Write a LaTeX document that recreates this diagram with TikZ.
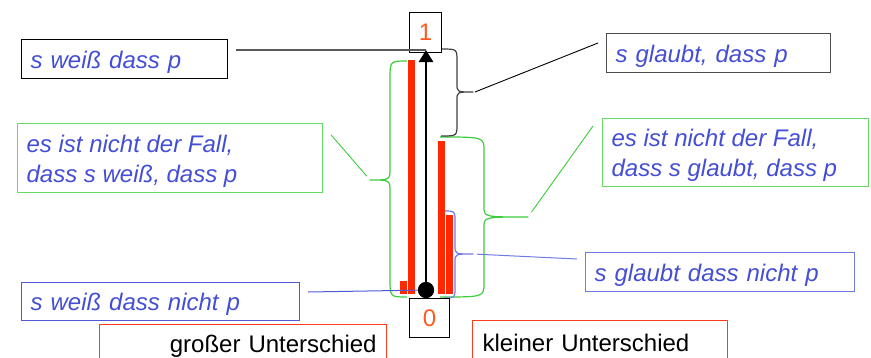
\documentclass[tikz,border=0pt]{standalone}
\usepackage{fontspec}
\setmainfont{Liberation Sans}
\usetikzlibrary{arrows.meta,calc}
\definecolor{txtblue}{RGB}{68,78,212}
\definecolor{lineblue}{RGB}{112,122,228}
\definecolor{boxblue}{RGB}{80,90,215}
\definecolor{grn}{RGB}{60,205,60}
\definecolor{grnbox}{RGB}{100,220,100}
\definecolor{barred}{RGB}{255,40,0}
\definecolor{boxred}{RGB}{255,60,30}
\definecolor{numor}{RGB}{255,90,30}
\begin{document}
\begin{tikzpicture}[x=1pt,y=-1pt,
  lbl/.style={draw, anchor=north west, inner xsep=9pt, inner ysep=0pt, align=left,
    font=\fontsize{24}{30}\selectfont\itshape, text=txtblue, line width=1.2pt},
  oneline/.style={text height=23.5pt, text depth=5pt},
  numbox/.style={draw=black, line width=1pt, anchor=north west, inner sep=0pt,
    text=numor, font=\fontsize{24}{24}\selectfont},
  diffbox/.style={draw=boxred, line width=1.2pt, anchor=north west, inner xsep=10pt,
    inner ysep=0pt, font=\fontsize{24}{30}\selectfont, text=black},
  brc/.style n args={8}{insert path={
    (#1,#2) .. controls (#4,#2) .. (#4,{#2+#7}) -- (#4,{#6-#8})
    .. controls (#4,#6) .. (#5,#6) .. controls (#4,#6) .. (#4,{#6+#8})
    -- (#4,{#3-#7}) .. controls (#4,#3) .. (#1,#3)}},
  bracestyle/.style={line width=1.2pt, line join=round}
]
\useasboundingbox (0,0) rectangle (871,357);
\clip (0,0) rectangle (871,357);

% braces
\draw[bracestyle, draw=grn, brc={407}{61}{297}{390}{370}{180}{18}{12}];
\draw[bracestyle, draw=grn, brc={440}{137}{297}{484}{528}{217}{14}{10}];
\draw[bracestyle, draw=black!75, brc={441}{49}{136}{457}{473}{92}{12}{8}];
\draw[bracestyle, draw=lineblue, brc={444}{211}{298}{455}{473}{254}{10}{8}];
\coordinate (glcusp) at (370,180);
\coordinate (grcusp) at (528,217);
\coordinate (bkcusp) at (473,92);
\coordinate (blcusp) at (473,254);

% bars
\fill[barred] (408,60) rectangle (415,294);
\fill[barred] (400,281) rectangle (407,294);
\fill[barred] (438,141) rectangle (445,294);
\fill[barred] (446,215) rectangle (453,294);

% number boxes
\node[numbox, minimum width=32pt, minimum height=40pt] (one) at (409,12) {1};
\node[numbox, minimum width=40pt, minimum height=39pt] (zero) at (409,298) {0};

% text boxes
\node[lbl, oneline, draw=black, minimum width=206pt, minimum height=39pt, text width=188pt] (w1) at (21,39) {s weiß dass p};
\node[lbl, draw=grnbox, minimum width=305pt, minimum height=69pt] (nw) at (17,123)
  {\parbox{287pt}{\baselineskip=30pt\rule{0pt}{23.5pt}es ist nicht der Fall,\\dass s weiß, dass p}};
\node[lbl, oneline, draw=black!70, minimum width=224pt, minimum height=39pt, text width=206pt] (g1) at (606,33) {s glaubt, dass p};
\node[lbl, draw=grnbox, minimum width=266pt, minimum height=68pt] (ng) at (602,118)
  {\parbox{248pt}{\baselineskip=30pt\rule{0pt}{23.5pt}es ist nicht der Fall,\\dass s glaubt, dass p}};
\node[lbl, oneline, draw=lineblue, minimum width=269pt, minimum height=39pt, text width=251pt] (gn) at (585,252) {s glaubt dass nicht p};
\node[lbl, oneline, draw=boxblue, minimum width=278pt, minimum height=38pt, text width=260pt] (wn) at (21,282) {s weiß dass nicht p};

\node[diffbox, minimum width=287pt, minimum height=44pt, text width=267pt, align=right] (gu) at (99,324) {großer Unterschied};
\node[diffbox, minimum width=255pt, minimum height=44pt, text width=235pt, align=left] (ku) at (472,320) {kleiner Unterschied};

% dot and arrow
\node[circle, fill=black, minimum size=16pt, inner sep=0pt] (dot) at (426,290) {};
\coordinate (atip) at (426,50);

% connectors
\draw[black!65, line width=1.3pt] ($(w1.north east)+(8,11)$) -- (atip);
\draw[black, line width=0.9pt] (bkcusp) ++(2,0) -- ($(g1.north west)+(-8,10)$);
\draw[grn, line width=0.9pt, shorten >=5pt] ($(nw.north east)+(8,12)$) -- (glcusp);
\draw[grn, line width=0.9pt, shorten <=6pt] (grcusp) -- ($(ng.north west)+(-9,8)$);
\draw[lineblue, line width=1pt, shorten <=4pt] (blcusp) -- ($(gn.north west)+(-8,7)$);
\draw[boxblue, line width=1pt] ($(wn.north east)+(8,10)$) -- (dot.center);

\draw[line width=2.7pt, -{Triangle[width=14pt,length=12pt]}] (dot.center) -- (atip);
\node[circle, fill=black, minimum size=16pt, inner sep=0pt] at (dot) {};
\end{tikzpicture}
\end{document}
